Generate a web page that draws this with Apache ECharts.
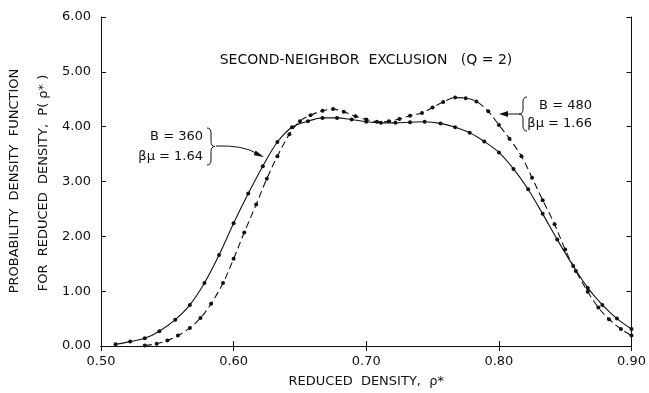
<!DOCTYPE html>
<html>
<head>
<meta charset="utf-8">
<script src="https://cdn.jsdelivr.net/npm/echarts@6/dist/echarts.min.js"></script>
<style>
  html, body { margin: 0; padding: 0; background: #fff; }
  #chart { width: 649px; height: 393px; }
</style>
</head>
<body>
<div id="chart"></div>
<script>
// B = 360, beta mu = 1.64 (solid)
const rhoB360 = [0.511, 0.522, 0.533, 0.544, 0.556, 0.567, 0.578, 0.589, 0.600, 0.611, 0.622, 0.633,
  0.644, 0.656, 0.667, 0.678, 0.689, 0.700, 0.711, 0.722, 0.733, 0.744, 0.756, 0.767,
  0.778, 0.789, 0.800, 0.811, 0.822, 0.833, 0.844, 0.856, 0.867, 0.878, 0.889, 0.900]
const pB360 = [0.03, 0.08, 0.14, 0.27, 0.48, 0.75, 1.15, 1.66, 2.24, 2.78, 3.28, 3.72,
  3.99, 4.10, 4.16, 4.16, 4.13, 4.09, 4.07, 4.07, 4.08, 4.09, 4.06, 3.99,
  3.89, 3.73, 3.53, 3.23, 2.86, 2.41, 1.94, 1.46, 1.06, 0.75, 0.50, 0.31]

// B = 480, beta mu = 1.66 (dashed)
const rhoB480 = [0.533, 0.542, 0.550, 0.558, 0.567, 0.575, 0.583, 0.592, 0.600, 0.608, 0.617, 0.625,
  0.633, 0.642, 0.650, 0.658, 0.667, 0.675, 0.683, 0.692, 0.700, 0.708, 0.717, 0.725,
  0.733, 0.742, 0.750, 0.758, 0.767, 0.775, 0.783, 0.792, 0.800, 0.808, 0.817, 0.825,
  0.833, 0.842, 0.850, 0.858, 0.867, 0.875, 0.883, 0.892, 0.900]
const pB480 = [0.01, 0.04, 0.10, 0.19, 0.33, 0.51, 0.77, 1.15, 1.59, 2.07, 2.58, 3.05,
  3.46, 3.86, 4.10, 4.21, 4.29, 4.32, 4.27, 4.19, 4.13, 4.09, 4.10, 4.14,
  4.20, 4.25, 4.35, 4.45, 4.53, 4.52, 4.46, 4.28, 4.03, 3.78, 3.46, 3.07,
  2.66, 2.22, 1.76, 1.37, 0.99, 0.70, 0.49, 0.31, 0.19]

const xTicks = [0.5, 0.9, 0.1]
const yTicks = [0, 6, 1]

const ink = "#111"
const font = "DejaVu Sans"

const chart = echarts.init(document.getElementById("chart"))

const frameAxis = {
  axisLine: { show: true, lineStyle: { color: ink, width: 1 } },
  axisTick: { show: true, inside: true, length: 5, lineStyle: { color: ink } },
  splitLine: { show: false },
}

// curly brace made of bezier pieces; dir = 1 points right "}", -1 points left "{"
function brace(x, yTop, yBot, dir) {
  const yMid = (yTop + yBot) / 2
  const w = 4 * dir
  const st = { stroke: ink, fill: null, lineWidth: 1 }
  return [
    { type: "bezierCurve", shape: { x1: x - w, y1: yTop, x2: x, y2: yTop + 5, cpx1: x, cpy1: yTop }, style: st },
    { type: "line", shape: { x1: x, y1: yTop + 5, x2: x, y2: yMid - 5 }, style: st },
    { type: "bezierCurve", shape: { x1: x, y1: yMid - 5, x2: x + w, y2: yMid, cpx1: x, cpy1: yMid }, style: st },
    { type: "bezierCurve", shape: { x1: x + w, y1: yMid, x2: x, y2: yMid + 5, cpx1: x, cpy1: yMid }, style: st },
    { type: "line", shape: { x1: x, y1: yMid + 5, x2: x, y2: yBot - 5 }, style: st },
    { type: "bezierCurve", shape: { x1: x, y1: yBot - 5, x2: x - w, y2: yBot, cpx1: x, cpy1: yBot }, style: st },
  ]
}

const textStyle = (text, size, align) => ({ text, fill: ink, font: `${size}px "${font}"`, align, verticalAlign: "middle" })

chart.setOption({
  backgroundColor: "#fff",
  animation: false,
  grid: { left: 101, right: 15, top: 17, bottom: 46 },
  xAxis: [
    {
      type: "value",
      min: xTicks[0], max: xTicks[1], interval: xTicks[2],
      ...frameAxis,
      axisLabel: { color: ink, fontFamily: font, fontSize: 13, margin: 9, formatter: (v) => v.toFixed(2) },
      name: "REDUCED  DENSITY,  ρ*",
      nameLocation: "middle",
      nameGap: 29,
      nameTextStyle: { color: ink, fontFamily: font, fontSize: 13 },
    },
    {
      type: "value", position: "top",
      min: xTicks[0], max: xTicks[1], interval: xTicks[2],
      ...frameAxis,
      axisLabel: { show: false },
    },
  ],
  yAxis: [
    {
      type: "value",
      min: yTicks[0], max: yTicks[1], interval: yTicks[2],
      ...frameAxis,
      axisLabel: { color: ink, fontFamily: font, fontSize: 13, margin: 10, formatter: (v) => v.toFixed(2) },
    },
    {
      type: "value", position: "right",
      min: yTicks[0], max: yTicks[1], interval: yTicks[2],
      ...frameAxis,
      axisLabel: { show: false },
    },
  ],
  series: [
    {
      name: "B=360",
      type: "line",
      data: rhoB360.map((r, i) => [r, pB360[i]]),
      smooth: 0.35,
      symbol: "circle",
      symbolSize: 4,
      itemStyle: { color: ink },
      lineStyle: { color: ink, width: 1.1 },
    },
    {
      name: "B=480",
      type: "line",
      data: rhoB480.map((r, i) => [r, pB480[i]]),
      smooth: 0.35,
      symbol: "circle",
      symbolSize: 4,
      itemStyle: { color: ink },
      lineStyle: { color: ink, width: 1.1, type: [7, 4] },
    },
  ],
  graphic: [
    // y axis title, two lines
    { type: "text", x: 15, y: 181, rotation: Math.PI / 2, style: textStyle("PROBABILITY  DENSITY  FUNCTION", 13, "center") },
    { type: "text", x: 44, y: 183, rotation: Math.PI / 2, style: textStyle("FOR  REDUCED  DENSITY,  P( ρ* )", 13, "center") },
    // heading
    { type: "text", x: 366, y: 60, style: textStyle("SECOND-NEIGHBOR  EXCLUSION   (Q = 2)", 14, "center") },
    // B = 360 note
    { type: "text", x: 203, y: 137, style: textStyle("B = 360", 13, "right") },
    { type: "text", x: 203, y: 157, style: textStyle("βμ = 1.64", 13, "right") },
    ...brace(211, 128, 165, 1),
    {
      type: "bezierCurve",
      shape: { x1: 216, y1: 146, x2: 257, y2: 153.5, cpx1: 243, cpy1: 145 },
      style: { stroke: ink, fill: null, lineWidth: 1 },
    },
    { type: "polygon", shape: { points: [[264, 157], [255.6, 150.6], [253.8, 155.2]] }, style: { fill: ink } },
    // B = 480 note
    { type: "text", x: 592, y: 106, style: textStyle("B = 480", 13, "right") },
    { type: "text", x: 592, y: 124, style: textStyle("βμ = 1.66", 13, "right") },
    ...brace(523, 97, 131, -1),
    { type: "line", shape: { x1: 519, y1: 114, x2: 506, y2: 114 }, style: { stroke: ink, lineWidth: 1 } },
    { type: "polygon", shape: { points: [[499, 114], [508, 111], [508, 117]] }, style: { fill: ink } },
  ],
})
</script>
</body>
</html>
